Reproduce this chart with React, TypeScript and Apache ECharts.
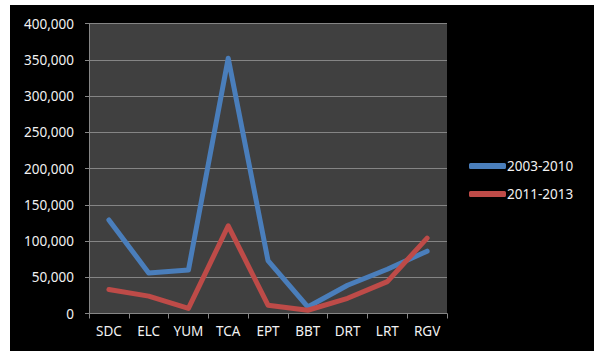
import React, { useEffect, useRef } from "react";
import * as echarts from "echarts";

const categories = ["SDC", "ELC", "YUM", "TCA", "EPT", "BBT", "DRT", "LRT", "RGV"];
const series2003 = [129000, 56000, 60000, 352000, 73000, 9000, 39000, 61000, 86000];
const series2011 = [33000, 24000, 7000, 121000, 11500, 4500, 21000, 44000, 104000];
const seriesNames = ["2003-2010", "2011-2013"];

const FONT = "'Noto Sans', 'Open Sans', sans-serif";
const TEXT = "#f2f2f2";

export default function App() {
  const ref = useRef<HTMLDivElement>(null);
  useEffect(() => {
    document.body.style.margin = "0";
    const chart = echarts.init(ref.current!, null, { renderer: "svg" });
    chart.setOption({
      animation: false,
      backgroundColor: "#000000",
      textStyle: { fontFamily: FONT },
      grid: {
        left: 79,
        top: 18.5,
        width: 358,
        height: 290,
        show: true,
        backgroundColor: "#404040",
        borderWidth: 0,
      },
      legend: {
        orient: "vertical",
        left: 454,
        top: 148,
        itemWidth: 37,
        itemHeight: 6,
        itemGap: 12,
        icon: "roundRect",
        textStyle: { color: TEXT, fontSize: 13.5, fontFamily: FONT, lineHeight: 16, padding: [0, 0, 0, -4] },
        data: seriesNames,
      },
      xAxis: {
        type: "category",
        data: categories,
        boundaryGap: true,
        axisLine: { show: true, lineStyle: { color: "#868686", width: 1 } },
        axisTick: { show: true, length: 5, lineStyle: { color: "#868686" } },
        axisLabel: { color: TEXT, fontSize: 13.5, fontFamily: FONT, margin: 10 },
      },
      yAxis: {
        type: "value",
        min: 0,
        max: 400000,
        interval: 50000,
        axisLine: { show: true, lineStyle: { color: "#868686", width: 1 } },
        axisTick: { show: true, length: 4, lineStyle: { color: "#868686" } },
        axisLabel: {
          color: TEXT,
          fontSize: 13.5,
          fontFamily: FONT,
          margin: 15,
          formatter: (v: number) => v.toLocaleString("en-US"),
        },
        splitLine: { show: true, lineStyle: { color: "#858585", width: 1 } },
      },
      series: [
        {
          name: seriesNames[0],
          type: "line",
          data: series2003,
          showSymbol: false,
          symbol: "none",
          itemStyle: { color: "#4a7ebb" },
          lineStyle: { color: "#4a7ebb", width: 5, cap: "round", join: "round" },
        },
        {
          name: seriesNames[1],
          type: "line",
          data: series2011,
          showSymbol: false,
          symbol: "none",
          itemStyle: { color: "#be4b48" },
          lineStyle: { color: "#be4b48", width: 5, cap: "round", join: "round" },
        },
      ],
    });
    return () => chart.dispose();
  }, []);
  return (
    <div style={{ width: 594, height: 351, background: "#ffffff", position: "relative" }}>
      <div ref={ref} style={{ position: "absolute", left: 10, top: 5, width: 584, height: 346 }} />
    </div>
  );
}
